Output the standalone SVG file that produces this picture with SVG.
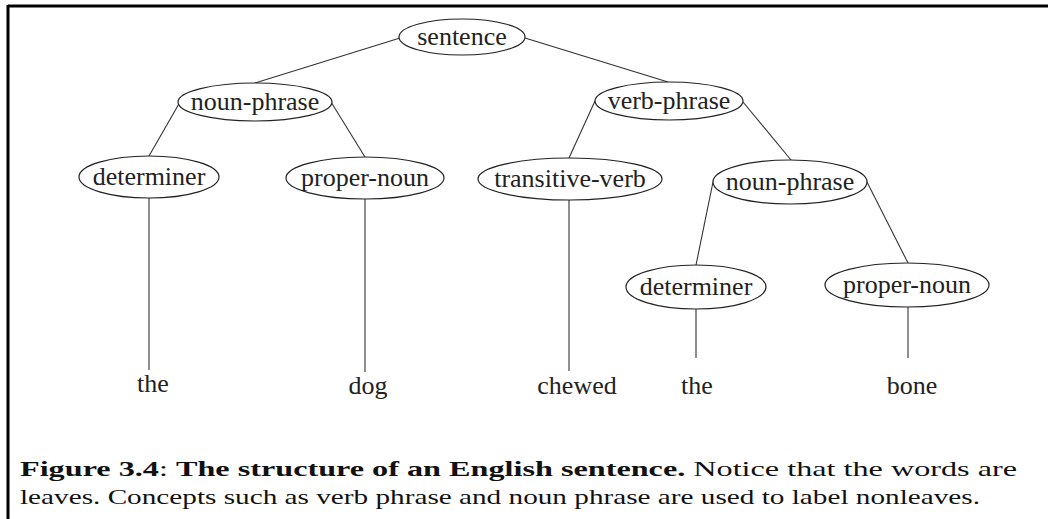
<svg xmlns="http://www.w3.org/2000/svg" width="1048" height="519" viewBox="0 0 1048 519">
<style>
.node ellipse{fill:#fff;stroke:#222;stroke-width:1.2}
.node text,.leaf{font-family:'Liberation Serif','Times New Roman',Times,'DejaVu Serif',serif;font-size:26px;fill:#222;text-anchor:middle}
#connectors line{stroke:#333;stroke-width:1.1}
.cap{font-family:'Liberation Serif','Times New Roman',Times,'DejaVu Serif',serif;font-size:22px;fill:#111}
.b{font-weight:bold}
</style>
<rect x="0" y="0" width="1048" height="519" fill="#fff"/>
<g id="frame" stroke="#000" stroke-width="3">
<line x1="8" y1="6" x2="1048" y2="6"/>
<line x1="8" y1="5" x2="8" y2="519"/>
</g>
<g id="connectors">
<line x1="400" y1="38" x2="255" y2="83"/>
<line x1="525" y1="38" x2="668" y2="82"/>
<line x1="180" y1="102" x2="149" y2="156"/>
<line x1="331" y1="102" x2="365" y2="157"/>
<line x1="595" y1="101" x2="569" y2="158"/>
<line x1="743" y1="102" x2="791" y2="160"/>
<line x1="713" y1="182" x2="696" y2="265"/>
<line x1="867" y1="182" x2="908" y2="263"/>
<line x1="149" y1="198" x2="149" y2="370"/>
<line x1="365" y1="199" x2="365" y2="372"/>
<line x1="569" y1="200" x2="569" y2="371"/>
<line x1="696" y1="309" x2="696" y2="358"/>
<line x1="908" y1="307" x2="908" y2="358"/>
</g>
<g id="n-sentence" class="node"><ellipse cx="462" cy="37" rx="63" ry="18"/><text x="462" y="45">sentence</text></g>
<g id="n-np1" class="node"><ellipse cx="255" cy="102" rx="77" ry="19"/><text x="255" y="110">noun-phrase</text></g>
<g id="n-vp" class="node"><ellipse cx="669" cy="101" rx="74" ry="19"/><text x="669" y="109">verb-phrase</text></g>
<g id="n-det1" class="node"><ellipse cx="149" cy="177" rx="70" ry="21"/><text x="149" y="185">determiner</text></g>
<g id="n-pn1" class="node"><ellipse cx="365" cy="178" rx="79" ry="21"/><text x="365" y="186">proper-noun</text></g>
<g id="n-tv" class="node"><ellipse cx="570" cy="179" rx="92" ry="21"/><text x="570" y="187">transitive-verb</text></g>
<g id="n-np2" class="node"><ellipse cx="790" cy="182" rx="77" ry="22"/><text x="790" y="190">noun-phrase</text></g>
<g id="n-det2" class="node"><ellipse cx="696" cy="287" rx="70" ry="22"/><text x="696" y="295">determiner</text></g>
<g id="n-pn2" class="node"><ellipse cx="907" cy="285" rx="82" ry="22"/><text x="907" y="293">proper-noun</text></g>
<g id="leaf-the1"><text class="leaf" x="153" y="392">the</text></g>
<g id="leaf-dog"><text class="leaf" x="368" y="394">dog</text></g>
<g id="leaf-chewed"><text class="leaf" x="577" y="394">chewed</text></g>
<g id="leaf-the2"><text class="leaf" x="697" y="394">the</text></g>
<g id="leaf-bone"><text class="leaf" x="912" y="394">bone</text></g>
<g id="caption">
<text class="cap" x="20" y="476" textLength="997" lengthAdjust="spacingAndGlyphs"><tspan class="b">Figure 3.4</tspan>: <tspan class="b">The structure of an English sentence.</tspan>  Notice that the words are</text>
<text class="cap" x="20" y="504" textLength="960" lengthAdjust="spacingAndGlyphs">leaves. Concepts such as verb phrase and noun phrase are used to label nonleaves.</text>
</g>
</svg>
